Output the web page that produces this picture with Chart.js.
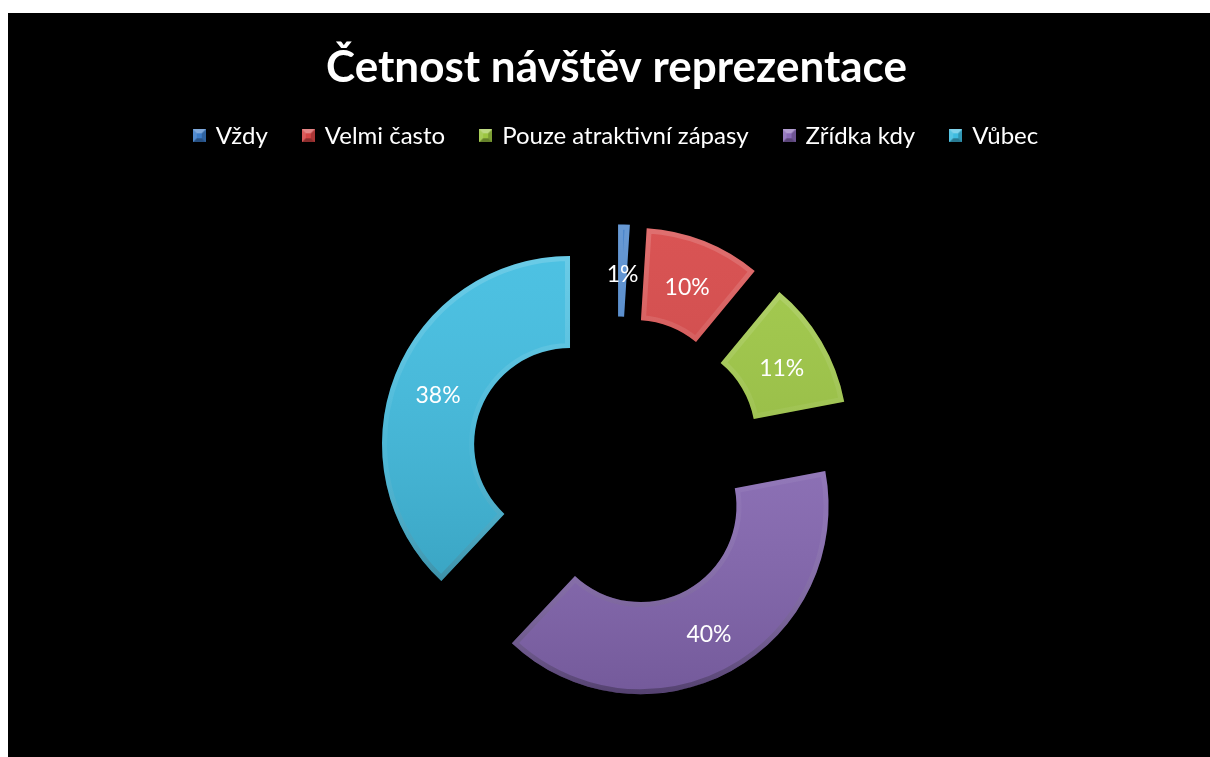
<!DOCTYPE html>
<html lang="cs">
<head>
<meta charset="utf-8">
<title>Četnost návštěv reprezentace</title>
<script src="https://cdn.jsdelivr.net/npm/chart.js@4/dist/chart.umd.min.js"></script>
<style>
    html, body { margin: 0; padding: 0; background: #fff; }
    #wrap {
        position: absolute; left: 8px; top: 13px;
        width: 1202px; height: 744px;
        background: #000; overflow: hidden;
    }
</style>
</head>
<body>
<div id="wrap"><canvas id="visits" width="1202" height="762"></canvas></div>
<script>
const categories = ['Vždy', 'Velmi často', 'Pouze atraktivní zápasy', 'Zřídka kdy', 'Vůbec'];
const shares = [1, 10, 11, 40, 38];
const sliceColors = ['#3c7cc8', '#d64545', '#9cc641', '#8a6bb8', '#3ebce0'];

const EXPLODE = 50; // how far each ring piece is pushed out from the centre

// little bevelled square used as legend marker
function bevelBox(color) {
    const c = document.createElement('canvas');
    c.width = 13; c.height = 13;
    const g = c.getContext('2d');
    g.fillStyle = color;
    g.fillRect(0, 0, 13, 13);
    const tri = (pts, fill) => {
        g.beginPath();
        g.moveTo(pts[0], pts[1]);
        for (let i = 2; i < pts.length; i += 2) g.lineTo(pts[i], pts[i + 1]);
        g.closePath();
        g.fillStyle = fill;
        g.fill();
    };
    tri([0, 0, 13, 0, 9, 4, 4, 4], 'rgba(255,255,255,0.35)');
    tri([0, 0, 4, 4, 4, 9, 0, 13], 'rgba(255,255,255,0.12)');
    tri([13, 0, 13, 13, 9, 9, 9, 4], 'rgba(0,0,0,0.2)');
    tri([0, 13, 4, 9, 9, 9, 13, 13], 'rgba(0,0,0,0.35)');
    return c;
}

function ringPath(ctx, a) {
    ctx.beginPath();
    ctx.arc(a.x, a.y, a.outerRadius, a.startAngle, a.endAngle);
    ctx.arc(a.x, a.y, a.innerRadius, a.endAngle, a.startAngle, true);
    ctx.closePath();
}

// draws the exploded pieces with a soft bevel, then the percentage labels
const explodedRing = {
    id: 'explodedRing',
    beforeDatasetDraw(chart, args) {
        const ctx = chart.ctx;
        const arcs = args.meta.data;
        arcs.forEach((arc, i) => {
            const p = arc.getProps(['x', 'y', 'startAngle', 'endAngle', 'innerRadius', 'outerRadius']);
            const mid = (p.startAngle + p.endAngle) / 2;
            ctx.save();
            ctx.translate(Math.cos(mid) * EXPLODE, Math.sin(mid) * EXPLODE);
            arc.draw(ctx);

            // bevel: light upper rim, darker lower rim
            ringPath(ctx, p);
            ctx.clip();
            const top = p.y - p.outerRadius, bottom = p.y + p.outerRadius;
            const shade = ctx.createLinearGradient(0, top, 0, bottom);
            shade.addColorStop(0, 'rgba(255,255,255,0.08)');
            shade.addColorStop(1, 'rgba(0,0,0,0.16)');
            ctx.fillStyle = shade;
            ctx.fill();
            const rim = ctx.createLinearGradient(0, top, 0, bottom);
            rim.addColorStop(0, 'rgba(255,255,255,0.16)');
            rim.addColorStop(0.5, 'rgba(255,255,255,0.04)');
            rim.addColorStop(1, 'rgba(0,0,0,0.28)');
            ctx.lineWidth = 10;
            ctx.lineJoin = 'miter';
            ctx.strokeStyle = rim;
            ringPath(ctx, p);
            ctx.stroke();
            ctx.restore();

            // label sits in the middle of the pushed-out piece
            const r = EXPLODE + (p.innerRadius + p.outerRadius) / 2;
            ctx.save();
            ctx.fillStyle = '#fff';
            ctx.font = '23px Lato, "Open Sans", sans-serif';
            ctx.textAlign = 'center';
            ctx.textBaseline = 'middle';
            ctx.fillText(shares[i] + '%', p.x + Math.cos(mid) * r, p.y + Math.sin(mid) * r + 4);
            ctx.restore();
        });
        return false;
    }
};

new Chart(document.getElementById('visits'), {
    type: 'doughnut',
    data: {
        labels: categories,
        datasets: [{
            data: shares,
            backgroundColor: sliceColors,
            borderWidth: 0
        }]
    },
    options: {
        responsive: false,
        animation: false,
        events: [],
        radius: 188,
        cutout: '51%',
        layout: { padding: { left: 15, right: 0, top: 0, bottom: 8 } },
        plugins: {
            title: {
                display: true,
                text: 'Četnost návštěv reprezentace',
                color: '#fff',
                font: { family: 'Lato, "Open Sans", sans-serif', size: 44, weight: 'bold' },
                padding: { top: 28, bottom: -6 }
            },
            legend: {
                position: 'top',
                labels: {
                    color: '#fff',
                    font: { family: 'Lato, "Open Sans", sans-serif', size: 24 },
                    usePointStyle: true,
                    boxWidth: 9,
                    padding: 36,
                    generateLabels(chart) {
                        return categories.map((name, i) => ({
                            text: name,
                            fillStyle: sliceColors[i],
                            strokeStyle: sliceColors[i],
                            lineWidth: 0,
                            pointStyle: bevelBox(sliceColors[i]),
                            fontColor: '#fff',
                            hidden: false,
                            index: i
                        }));
                    }
                }
            },
            tooltip: { enabled: false }
        }
    },
    plugins: [explodedRing]
});
</script>
</body>
</html>
